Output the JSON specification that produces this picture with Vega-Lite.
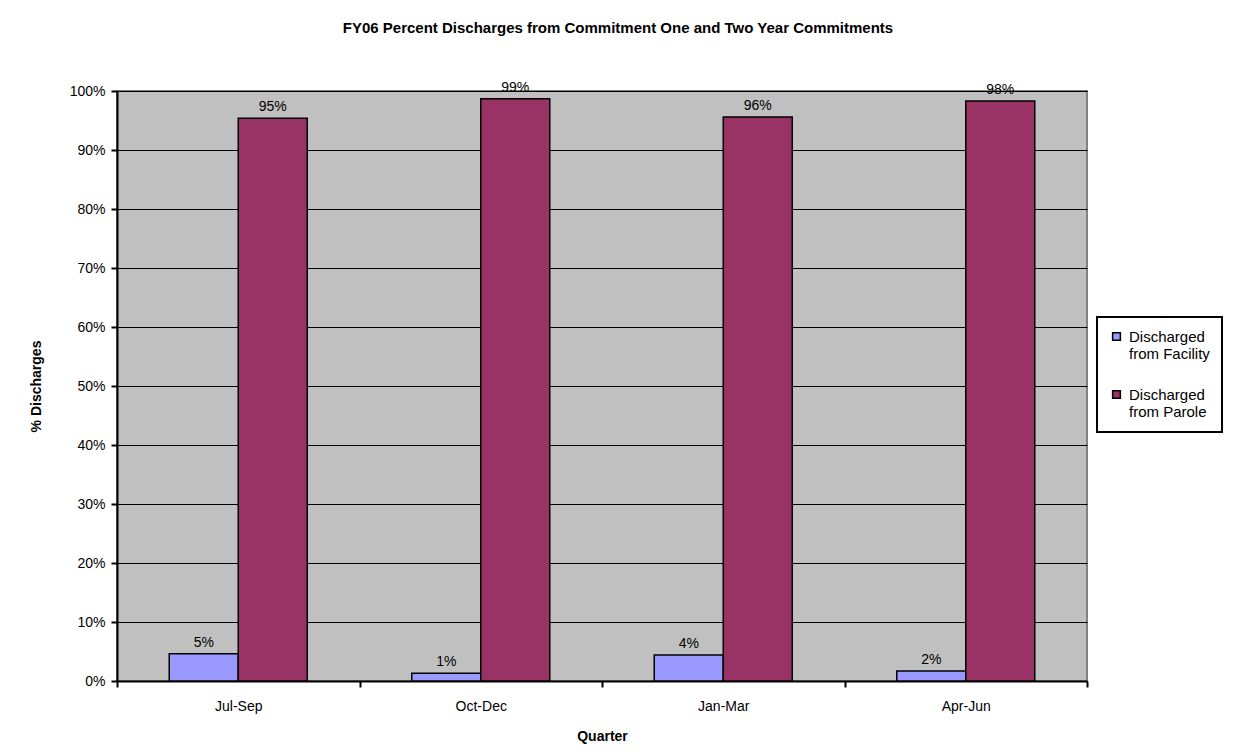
{
  "$schema": "https://vega.github.io/schema/vega-lite/v6.json",
  "width": 970,
  "height": 590,
  "autosize": "none",
  "padding": {"left": 117, "top": 91, "right": 149, "bottom": 75},
  "background": "white",
  "title": {
    "text": "FY06 Percent Discharges from Commitment One and Two Year Commitments",
    "font": "Liberation Sans",
    "fontSize": 15,
    "fontWeight": "bold",
    "color": "black",
    "anchor": "middle",
    "frame": "group",
    "dx": 16,
    "offset": 45
  },
  "data": {
    "values": [
      {"quarter": "Jul-Sep", "series": "Discharged from Facility", "pct": 0.046},
      {"quarter": "Jul-Sep", "series": "Discharged from Parole", "pct": 0.954},
      {"quarter": "Oct-Dec", "series": "Discharged from Facility", "pct": 0.013},
      {"quarter": "Oct-Dec", "series": "Discharged from Parole", "pct": 0.987},
      {"quarter": "Jan-Mar", "series": "Discharged from Facility", "pct": 0.044},
      {"quarter": "Jan-Mar", "series": "Discharged from Parole", "pct": 0.956},
      {"quarter": "Apr-Jun", "series": "Discharged from Facility", "pct": 0.017},
      {"quarter": "Apr-Jun", "series": "Discharged from Parole", "pct": 0.983}
    ]
  },
  "encoding": {
    "x": {
      "field": "quarter",
      "type": "nominal",
      "sort": ["Jul-Sep", "Oct-Dec", "Jan-Mar", "Apr-Jun"],
      "scale": {"paddingInner": 0, "paddingOuter": 0},
      "title": "Quarter",
      "axis": {
        "labelAngle": 0,
        "tickBand": "extent",
        "tickSize": 6,
        "labelPadding": 12,
        "titlePadding": 16
      }
    },
    "xOffset": {
      "field": "series",
      "type": "nominal",
      "scale": {"paddingInner": 0, "paddingOuter": 0.757}
    },
    "y": {
      "field": "pct",
      "type": "quantitative",
      "scale": {"domain": [0, 1]},
      "title": "% Discharges",
      "axis": {
        "values": [0, 0.1, 0.2, 0.3, 0.4, 0.5, 0.6, 0.7, 0.8, 0.9, 1],
        "format": ".0%",
        "grid": true,
        "tickSize": 6,
        "labelPadding": 6,
        "titlePadding": 26
      }
    }
  },
  "layer": [
    {
      "mark": {"type": "bar", "stroke": "black", "strokeWidth": 1.5},
      "encoding": {
        "color": {
          "field": "series",
          "type": "nominal",
          "scale": {
            "domain": ["Discharged from Facility", "Discharged from Parole"],
            "range": ["#9999FF", "#993366"]
          },
          "legend": {
            "title": null,
            "orient": "none",
            "legendX": 980,
            "legendY": 226,
            "padding": 12,
            "strokeColor": "black",
            "fillColor": "white",
            "symbolType": "square",
            "symbolSize": 60,
            "symbolStrokeColor": "black",
            "symbolStrokeWidth": 1.5,
            "symbolOpacity": 1,
            "labelFont": "Liberation Sans",
            "labelFontSize": 15,
            "labelOffset": 5,
            "labelColor": "black",
            "labelLimit": 200,
            "rowPadding": 25,
            "labelExpr": "split(replace(datum.label, ' from ', '|from '), '|')"
          }
        }
      }
    },
    {
      "mark": {
        "type": "text",
        "dy": -11,
        "font": "Liberation Sans",
        "fontSize": 14,
        "color": "black"
      },
      "encoding": {
        "text": {"field": "pct", "type": "quantitative", "format": ".0%"}
      }
    }
  ],
  "config": {
    "font": "Liberation Sans",
    "view": {"fill": "#C0C0C0", "stroke": "#808080", "strokeWidth": 2},
    "legend": {"strokeWidth": 2},
    "axis": {
      "labelFont": "Liberation Sans",
      "labelFontSize": 14,
      "labelColor": "black",
      "titleFont": "Liberation Sans",
      "titleFontSize": 14,
      "titleFontWeight": "bold",
      "titleColor": "black",
      "domainColor": "black",
      "domainWidth": 2,
      "tickColor": "black",
      "tickWidth": 2,
      "gridColor": "black",
      "gridWidth": 1,
      "gridOpacity": 1
    }
  }
}
